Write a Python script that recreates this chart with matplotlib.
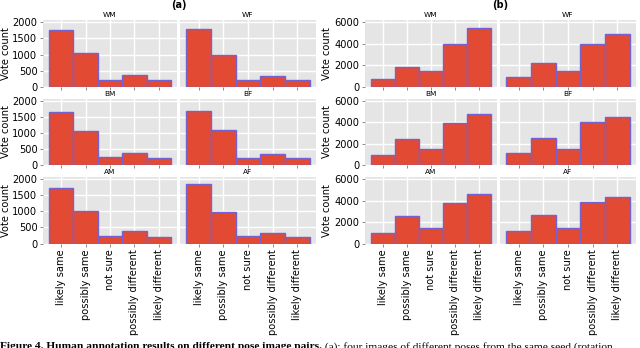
import matplotlib
matplotlib.use("Agg")
import matplotlib.pyplot as plt
import numpy as np

categories = ["likely same", "possibly same", "not sure", "possibly different", "likely different"]
panel_names = ["WM", "WF", "BM", "BF", "AM", "AF"]

# (a) counts
a_WM = [1750, 1036, 228, 363, 218]
a_WF = [1793, 995, 218, 342, 218]
a_BM = [1667, 1073, 260, 365, 208]
a_BF = [1688, 1094, 229, 354, 229]
a_AM = [1720, 1026, 228, 383, 207]
a_AF = [1845, 995, 228, 332, 187]

# (b) counts
b_WM = [715, 1896, 1461, 4010, 5440]
b_WF = [901, 2269, 1523, 3948, 4943]
b_BM = [937, 2406, 1500, 3906, 4844]
b_BF = [1094, 2562, 1469, 4000, 4500]
b_AM = [1026, 2549, 1492, 3824, 4663]
b_AF = [1181, 2642, 1492, 3855, 4383]

a_yticks = [0, 500, 1000, 1500, 2000]
b_yticks = [0, 2000, 4000, 6000]

W, H = 640, 348
fig = plt.figure(figsize=(6.4, 3.48), dpi=100)

def fx(px):
    return px / W

def fy(py):
    return 1 - py / H

rows = [(20, 87), (99, 165), (177, 243.5)]
cols_a = [(43, 177), (180, 316)]
cols_b = [(365, 497), (500, 636)]

FACE = "#E5E5E5"
BAR = "#E24A33"
EDGE = "#7462D2"
FS = 7.1

def draw(group, cols, yticks, ytop, title, title_x, ylab_x):
    x = np.arange(len(categories))
    for i, name in enumerate(panel_names):
        r, c = divmod(i, 2)
        (y0, y1), (x0, x1) = rows[r], cols[c]
        ax = fig.add_axes([fx(x0), fy(y1), fx(x1 - x0), (y1 - y0) / H])
        ax.set_facecolor(FACE)
        ax.bar(x, group[name], width=1.0, color=BAR, edgecolor=EDGE, linewidth=1.0, zorder=3)
        ax.set_xlim(-0.5 - 0.25, len(categories) - 0.5 + 0.25)
        ax.set_ylim(0, ytop)
        ax.set_yticks(yticks)
        ax.set_xticks(x)
        ax.grid(True, color="white", linewidth=1.0, zorder=0)
        ax.set_axisbelow(True)
        for s in ax.spines.values():
            s.set_visible(False)
        ax.tick_params(axis="both", length=2.5, width=0.6, color="#777777", labelsize=FS, pad=1.5)
        if c == 0:
            ax.set_ylabel("Vote count", fontsize=FS)
            ax.yaxis.set_label_coords((ylab_x - x0) / (x1 - x0), 0.5)
        else:
            ax.tick_params(axis="y", labelleft=False, length=0)
        if r == 2:
            ax.set_xticklabels(categories, rotation=90, fontsize=FS)
        else:
            ax.set_xticklabels([])
        ax.set_title(name, fontsize=5.3, pad=2.0)
    fig.text(fx(title_x), fy(5), title, fontsize=7, fontweight="bold", ha="center", va="center")

a_group = dict(zip(panel_names, [a_WM, a_WF, a_BM, a_BF, a_AM, a_AF]))
b_group = dict(zip(panel_names, [b_WM, b_WF, b_BM, b_BF, b_AM, b_AF]))

draw(a_group, cols_a, a_yticks, 2070, "(a)", 179, 11.5)
draw(b_group, cols_b, b_yticks, 6210, "(b)", 500, 331.5)

cap_bold = "Figure 4. Human annotation results on different pose image pairs."
cap_rest = " (a): four images of different poses from the same seed (rotation"
t1 = fig.text(0.0, fy(342), cap_bold, fontsize=8.2, fontweight="bold",
              family="Liberation Serif", ha="left", va="top")
fig.canvas.draw()
bb = t1.get_window_extent()
fig.text(bb.x1 / W, fy(342), cap_rest, fontsize=8.2, family="Liberation Serif",
         ha="left", va="top")

fig.savefig("out.png", dpi=100)
